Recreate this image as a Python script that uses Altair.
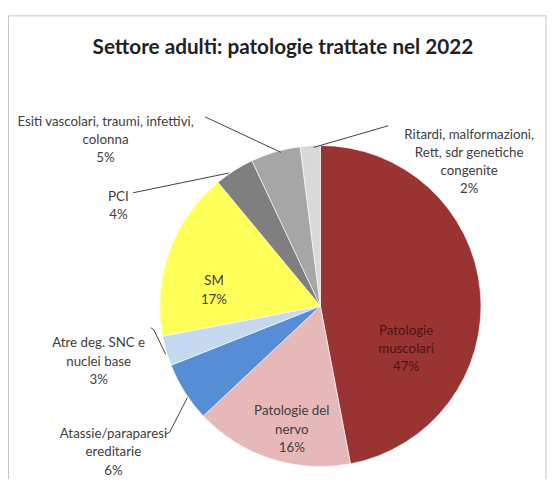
import altair as alt
import pandas as pd

# ---- data ----
categories = [
    "Patologie muscolari",
    "Patologie del nervo",
    "Atassie/paraparesi ereditarie",
    "Atre deg. SNC e nuclei base",
    "SM",
    "PCI",
    "Esiti vascolari, traumi, infettivi, colonna",
    "Ritardi, malformazioni, Rett, sdr genetiche congenite",
]
values = [47, 16, 6, 3, 17, 4, 5, 2]
label_lines = [
    ["Patologie", "muscolari"],
    ["Patologie del", "nervo"],
    ["Atassie/paraparesi", "ereditarie"],
    ["Atre deg. SNC e", "nuclei base"],
    ["SM"],
    ["PCI"],
    ["Esiti vascolari, traumi, infettivi,", "colonna"],
    ["Ritardi, malformazioni,", "Rett, sdr genetiche", "congenite"],
]
title_text = "Settore adulti: patologie trattate nel 2022"

# ---- styles / layout (not data) ----
colors = ["#9A3432", "#E6B9B8", "#558ED5", "#C6D9F1", "#FFFF59", "#7F7F7F", "#A6A6A6", "#D9D9D9"]
text_colors = ["#4a1414", "#404040", "#404040", "#404040", "#404040", "#404040", "#404040", "#404040"]
W, H = 547, 471
CX, CY, R = 317, 299, 163
label_pos = [(404, 324), (288, 406), (107, 429), (92, 337), (209, 274), (112, 188), (99, 112), (468, 125)]
leaders = {
    "Ritardi": [(386, 116), (310, 138)],
    "Esiti": [(200, 107), (277, 143)],
    "PCI": [(127, 184), (224, 164)],
    "Atre": [(145, 321), (148, 323), (160, 348)],
    "Atassie": [(160, 429), (164, 427), (182, 392)],
}

pie_df = pd.DataFrame({"cat": categories, "value": values, "idx": list(range(len(values)))})

pie = alt.Chart(pie_df).mark_arc(outerRadius=R, stroke="#ffffff", strokeWidth=0.6).encode(
    theta=alt.Theta("value:Q", stack=True),
    order=alt.Order("idx:Q"),
    color=alt.Color("cat:N", scale=alt.Scale(domain=categories, range=colors), legend=None),
    x=alt.value(CX),
    y=alt.value(CY),
)

lab_df = pd.DataFrame({
    "text": ["\n".join(l + [f"{v}%"]) for l, v in zip(label_lines, values)],
    "lx": [p[0] for p in label_pos],
    "ly": [p[1] for p in label_pos],
    "tc": text_colors,
})
labels = alt.Chart(lab_df).mark_text(
    font="Lato", fontSize=13.5, lineBreak="\n", lineHeight=18.5, align="center", baseline="middle"
).encode(
    x=alt.X("lx:Q", scale=None),
    y=alt.Y("ly:Q", scale=None),
    text="text:N",
    color=alt.Color("tc:N", scale=None),
)

rows = []
for k, pts in leaders.items():
    for i, (px, py) in enumerate(pts):
        rows.append({"k": k, "o": i, "px": px, "py": py})
lead_df = pd.DataFrame(rows)
lead = alt.Chart(lead_df).mark_line(color="#404040", strokeWidth=1).encode(
    x=alt.X("px:Q", scale=None),
    y=alt.Y("py:Q", scale=None),
    detail="k:N",
    order="o:Q",
)

title_df = pd.DataFrame({"t": [title_text]})
title = alt.Chart(title_df).mark_text(
    font="Lato", fontSize=21, fontWeight="bold", color="#222222", align="center", baseline="alphabetic"
).encode(text="t:N", x=alt.value(279), y=alt.value(43))

frame = alt.Chart(pd.DataFrame({"a": [0]})).mark_rect(
    fill=None, stroke="#c4c4c4", strokeWidth=1
).encode(x=alt.value(0.5), x2=alt.value(546), y=alt.value(4.5), y2=alt.value(490))

chart = alt.layer(frame, pie, lead, labels, title).properties(
    width=W, height=H, autosize=alt.AutoSizeParams(type="none"), padding=0
).configure_view(stroke=None)

chart.save("out.html", embed_options={"renderer": "svg", "actions": False})
